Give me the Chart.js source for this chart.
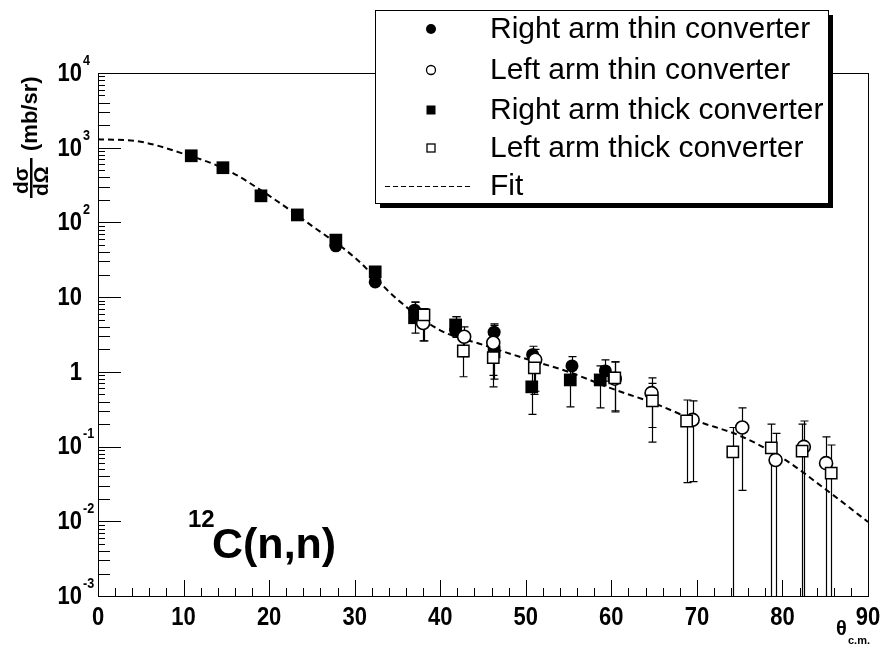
<!DOCTYPE html>
<html><head><meta charset="utf-8">
<script src="https://cdn.jsdelivr.net/npm/chart.js@4/dist/chart.umd.min.js"></script>
<style>html,body{margin:0;padding:0;background:#fff}canvas{display:block}</style>
</head><body>
<canvas id="c" width="885" height="649"></canvas>
<script>
// ---------- data ----------
const fitX = [0, 5, 10, 15, 20, 25, 30, 35, 40, 45, 50, 55, 60, 65, 70, 75, 80, 85, 90];
const fitY = [1300, 1200, 830, 510, 228, 90, 34, 9.3, 3.6, 2.3, 1.5, 1.0, 0.6, 0.38, 0.22, 0.14, 0.07, 0.027, 0.0098];

const rThinX  = [27.8, 32.4, 37.0, 41.8, 46.3, 50.8, 55.4, 59.3];
const rThinY  = [48.6, 16, 6.7, 3.6, 3.4, 1.7, 1.2, 1.03];
const rThinLo = [46, 15, 4.5, 2.9, 2.6, 1.3, 0.9, 0.75];
const rThinHi = [51, 17, 8.6, 5.5, 4.4, 2.2, 1.6, 1.45];

const lThinX  = [38.0, 42.8, 46.2, 51.1, 60.4, 64.7, 69.5, 75.3, 79.2, 82.5, 85.1];
const lThinY  = [4.5, 2.95, 2.45, 1.45, 0.81, 0.52, 0.228, 0.18, 0.066, 0.099, 0.06];
const lThinLo = [2.6, 1.6, 0.9, 0.55, 0.3, 0.115, 0.034, 0.026, 0.0001, 0.0001, 0.0001];
const lThinHi = [7.0, 4.0, 3.6, 2.0, 1.36, 0.83, 0.41, 0.33, 0.15, 0.22, 0.135];

const rThickX  = [10.9, 14.6, 19.05, 23.3, 27.8, 32.4, 37.0, 41.8, 46.3, 50.7, 55.2, 58.7];
const rThickY  = [780, 540, 227, 126, 58, 21.8, 5.3, 4.25, 1.85, 0.63, 0.78, 0.78];
const rThickLo = [750, 520, 218, 121, 55, 20.8, 3.3, 3.0, 0.8, 0.27, 0.34, 0.33];
const rThickHi = [810, 560, 236, 131, 61, 22.8, 8.6, 5.5, 4.2, 1.1, 1.3, 1.2];

const lThickX  = [38.1, 42.7, 46.2, 51.0, 60.4, 64.8, 68.8, 74.2, 78.7, 82.3, 85.7];
const lThickY  = [5.8, 1.9, 1.55, 1.13, 0.83, 0.41, 0.22, 0.085, 0.096, 0.087, 0.044];
const lThickLo = [2.6, 0.86, 0.63, 0.5, 0.29, 0.18, 0.033, 0.0001, 0.0001, 0.0001, 0.0001];
const lThickHi = [7.0, 3.0, 2.6, 1.7, 1.36, 0.7, 0.42, 0.18, 0.2, 0.2, 0.105];

const xTickValues = [0, 10, 20, 30, 40, 50, 60, 70, 80, 90];
const yTickValues = [0.001, 0.01, 0.1, 1, 10, 100, 1000, 10000];
const yTickBase = ['10', '10', '10', '1', '10', '10', '10', '10'];
const yTickExp  = ['-3', '-2', '-1', '', '', '2', '3', '4'];

const seriesLabels = ['Right arm thin converter', 'Left arm thin converter', 'Right arm thick converter', 'Left arm thick converter', 'Fit'];

// ---------- helpers ----------
const F = '"Liberation Sans", Arial, Helvetica, sans-serif';
const pts = (xs, ys) => xs.map((x, i) => ({x: x, y: ys[i]}));

// condensed text drawing (ROOT-like narrow bold font)
function narrowText(ctx, txt, x, y, font, sx, align) {
  ctx.save();
  ctx.font = font;
  const w = ctx.measureText(txt).width * sx;
  let x0 = x;
  if (align === 'right') x0 = x - w; else if (align === 'center') x0 = x - w / 2;
  ctx.translate(x0, y); ctx.scale(sx, 1);
  ctx.textAlign = 'left';
  ctx.fillText(txt, 0, 0);
  ctx.restore();
  return w;
}

const rootPlugin = {
  id: 'rootStyle',
  beforeDatasetsDraw(chart) {
    const ctx = chart.ctx, a = chart.chartArea;
    const xs = chart.scales.x, ys = chart.scales.y;
    ctx.save();
    ctx.beginPath(); ctx.rect(a.left, a.top, a.right - a.left, a.bottom - a.top); ctx.clip();
    ctx.strokeStyle = '#000'; ctx.lineWidth = 1.2;
    chart.data.datasets.forEach(ds => {
      if (!ds.errLo) return;
      ds.data.forEach((p, i) => {
        const px = Math.round(xs.getPixelForValue(p.x)) + 0.5;
        const yl = ys.getPixelForValue(ds.errLo[i]);
        const yh = ys.getPixelForValue(ds.errHi[i]);
        ctx.beginPath(); ctx.moveTo(px, yl); ctx.lineTo(px, yh); ctx.stroke();
        ctx.beginPath();
        ctx.moveTo(px - 4, yh); ctx.lineTo(px + 4, yh);
        ctx.moveTo(px - 4, yl); ctx.lineTo(px + 4, yl);
        ctx.stroke();
      });
    });
    ctx.restore();
  },
  afterDraw(chart) {
    const ctx = chart.ctx, a = chart.chartArea;
    const xs = chart.scales.x, ys = chart.scales.y;
    ctx.save();
    ctx.fillStyle = '#000'; ctx.strokeStyle = '#000';
    // frame
    ctx.lineWidth = 1;
    ctx.strokeRect(Math.round(a.left) + 0.5, Math.round(a.top) + 0.5, Math.round(a.right - a.left), Math.round(a.bottom - a.top));
    // y ticks (inside)
    ctx.beginPath();
    for (let d = -3; d <= 4; d++) {
      const yy = Math.round(ys.getPixelForValue(Math.pow(10, d))) + 0.5;
      ctx.moveTo(a.left, yy); ctx.lineTo(a.left + 23, yy);
      if (d < 4) for (let m = 2; m <= 9; m++) {
        const ym = Math.round(ys.getPixelForValue(m * Math.pow(10, d))) + 0.5;
        ctx.moveTo(a.left, ym); ctx.lineTo(a.left + (m <= 4 ? 12 : 7), ym);
      }
    }
    // x ticks (inside, from bottom)
    for (let v = 0; v <= 90; v += 2) {
      const xx = Math.round(xs.getPixelForValue(v)) + 0.5;
      const L = (v % 10 === 0) ? 16 : 8;
      ctx.moveTo(xx, a.bottom); ctx.lineTo(xx, a.bottom - L);
    }
    ctx.stroke();
    // y tick labels
    ctx.textBaseline = 'middle';
    yTickValues.forEach((v, i) => {
      const yy = ys.getPixelForValue(v);
      narrowText(ctx, yTickBase[i], 82, yy + 1, 'bold 25px ' + F, 0.88, 'right');
      if (yTickExp[i]) narrowText(ctx, yTickExp[i], 83, yy - 12, 'bold 14px ' + F, 0.9, 'left');
    });
    // x tick labels
    xTickValues.forEach(v => narrowText(ctx, String(v), xs.getPixelForValue(v), 618, 'bold 25px ' + F, 0.88, 'center'));
    // x title
    ctx.font = 'bold 20px ' + F; ctx.textAlign = 'left';
    ctx.fillText('θ', 836, 629);
    ctx.font = 'bold 11px ' + F;
    ctx.fillText('c.m.', 848, 641);
    // y title (rotated)
    ctx.save();
    ctx.translate(31, 198); ctx.rotate(-Math.PI / 2);
    ctx.textAlign = 'left'; ctx.textBaseline = 'middle';
    ctx.font = 'bold 21px ' + F;
    ctx.fillText('dσ', 4, -9);
    ctx.fillText('dΩ', 2, 11);
    ctx.fillRect(0, -1, 40, 2.5);
    ctx.font = 'bold 22px ' + F;
    ctx.fillText('(mb/sr)', 47, 0);
    ctx.restore();
    // annotation 12C(n,n)
    ctx.textAlign = 'left'; ctx.textBaseline = 'alphabetic';
    ctx.font = 'bold 24px ' + F;
    ctx.fillText('12', 188, 527);
    ctx.font = 'bold 43px ' + F;
    ctx.fillText('C(n,n)', 212, 558);
    // legend
    const bx = 375, by = 10, bw = 453, bh = 193;
    ctx.fillRect(bx + 5, by + 5, bw, bh);
    ctx.fillStyle = '#fff'; ctx.fillRect(bx, by, bw, bh);
    ctx.fillStyle = '#000'; ctx.lineWidth = 1;
    ctx.strokeRect(bx + 0.5, by + 0.5, bw, bh);
    const rows = [29, 70, 110, 148, 186];
    ctx.font = '30px ' + F; ctx.textBaseline = 'middle'; ctx.textAlign = 'left';
    seriesLabels.forEach((lab, i) => {
      const y = rows[i];
      ctx.fillText(lab, 490, y + 1);
      const mx = 431;
      ctx.lineWidth = 1.3;
      if (i === 0) { ctx.beginPath(); ctx.arc(mx, y, 5, 0, Math.PI * 2); ctx.fill(); }
      if (i === 1) { ctx.beginPath(); ctx.arc(mx, y, 4.5, 0, Math.PI * 2); ctx.stroke(); }
      if (i === 2) { ctx.fillRect(mx - 4.5, y - 4.5, 9, 9); }
      if (i === 3) { ctx.strokeRect(mx - 4, y - 4, 8, 8); }
      if (i === 4) {
        ctx.save(); ctx.setLineDash([5, 3]); ctx.lineWidth = 1;
        ctx.beginPath(); ctx.moveTo(385, y + 0.5); ctx.lineTo(471, y + 0.5); ctx.stroke(); ctx.restore();
      }
    });
    ctx.restore();
  }
};

new Chart(document.getElementById('c'), {
  type: 'scatter',
  data: {
    datasets: [
      { label: seriesLabels[3], data: pts(lThickX, lThickY), errLo: lThickLo, errHi: lThickHi,
        pointStyle: 'rect', pointRadius: 8, backgroundColor: '#fff', borderColor: '#000', borderWidth: 1.5 },
      { label: seriesLabels[1], data: pts(lThinX, lThinY), errLo: lThinLo, errHi: lThinHi,
        pointStyle: 'circle', pointRadius: 6.5, backgroundColor: '#fff', borderColor: '#000', borderWidth: 1.6 },
      { label: seriesLabels[2], data: pts(rThickX, rThickY), errLo: rThickLo, errHi: rThickHi,
        pointStyle: 'rect', pointRadius: 9, backgroundColor: '#000', borderColor: '#000', borderWidth: 0 },
      { label: seriesLabels[0], data: pts(rThinX, rThinY), errLo: rThinLo, errHi: rThinHi,
        pointStyle: 'circle', pointRadius: 6.5, backgroundColor: '#000', borderColor: '#000', borderWidth: 0 },
      { label: seriesLabels[4], data: pts(fitX, fitY), showLine: true, cubicInterpolationMode: 'monotone',
        borderColor: '#000', borderWidth: 2, borderDash: [6, 4], pointRadius: 0, fill: false }
    ]
  },
  options: {
    responsive: false, animation: false, devicePixelRatio: 1,
    layout: { padding: { left: 98, right: 17, top: 73, bottom: 53 } },
    scales: {
      x: { type: 'linear', min: 0, max: 90, display: false },
      y: { type: 'logarithmic', min: 0.001, max: 10000, display: false }
    },
    plugins: { legend: { display: false }, tooltip: { enabled: false } },
    events: []
  },
  plugins: [rootPlugin]
});
</script>
</body></html>
